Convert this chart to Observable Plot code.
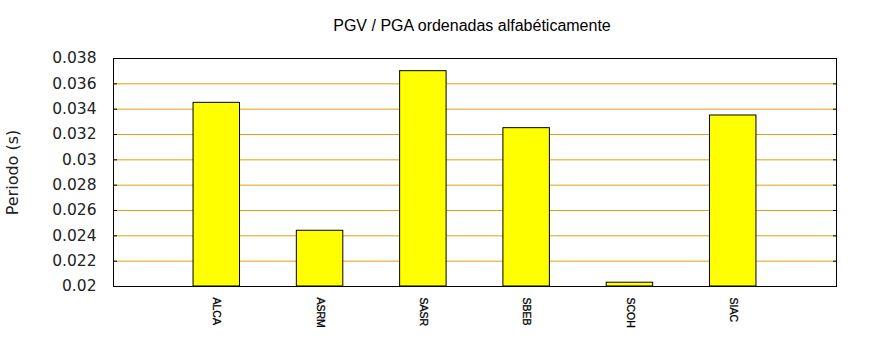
<!DOCTYPE html>
<html>
<head>
<meta charset="utf-8">
<script src="https://cdn.jsdelivr.net/npm/d3@7"></script>
<script src="https://cdn.jsdelivr.net/npm/@observablehq/plot@0.6"></script>
<style>
  html, body { margin: 0; padding: 0; background: #fff; }
</style>
</head>
<body>
<div id="chart"></div>
<script>
const titleText = "PGV / PGA ordenadas alfabéticamente";
const yLabel = "Periodo (s)";
const categories = ["ALCA", "ASRM", "SASR", "SBEB", "SCOH", "SIAC"];
const values = [0.0345, 0.0244, 0.0370, 0.0325, 0.0203, 0.0335];
const yTicks = [0.02, 0.022, 0.024, 0.026, 0.028, 0.03, 0.032, 0.034, 0.036, 0.038];

const data = categories.map((name, i) => ({pos: i + 1, name, value: values[i]}));
const halfWidth = 0.225;

const chart = Plot.plot({
  width: 870,
  height: 350,
  marginLeft: 113,
  marginRight: 34,
  marginTop: 58,
  marginBottom: 64,
  style: {fontFamily: "DejaVu Sans", background: "#fff", overflow: "visible"},
  x: {domain: [0, 7], axis: null},
  y: {domain: [0.02, 0.038], axis: null},
  marks: [
    Plot.gridY(yTicks, {stroke: "#e0a010", strokeOpacity: 1, strokeWidth: 1}),
    Plot.rectY(data, {
      x1: d => d.pos - halfWidth,
      x2: d => d.pos + halfWidth,
      y1: 0.02,
      y2: "value",
      fill: "#ffff00",
      stroke: "black",
      strokeWidth: 1
    }),
    Plot.axisY({
      anchor: "left",
      ticks: yTicks,
      tickSize: -4,
      tickPadding: 21,
      tickFormat: d => String(+d.toFixed(3)),
      fontSize: 15.5,
      fill: "#222",
      label: null
    }),
    Plot.axisY({
      anchor: "right",
      ticks: yTicks,
      tickSize: -4,
      tickFormat: () => "",
      label: null
    }),
    Plot.text(data, {
      x: "pos",
      text: "name",
      frameAnchor: "bottom",
      dy: 11,
      rotate: 90,
      textAnchor: "start",
      lineAnchor: "middle",
      fontSize: 10.5,
      fontFamily: "Liberation Sans",
      fill: "black",
      stroke: "black",
      strokeWidth: 0.3
    }),
    Plot.text([yLabel], {
      text: d => d,
      frameAnchor: "left",
      dx: -101,
      rotate: -90,
      textAnchor: "middle",
      lineAnchor: "middle",
      fontSize: 16,
      fill: "#222"
    }),
    Plot.text([titleText], {
      text: d => d,
      frameAnchor: "top",
      dx: -3,
      dy: -33,
      textAnchor: "middle",
      lineAnchor: "middle",
      fontSize: 16,
      fontFamily: "Liberation Sans",
      fill: "black"
    }),
    Plot.frame({stroke: "black", strokeWidth: 1})
  ]
});
document.getElementById("chart").appendChild(chart);
</script>
</body>
</html>
